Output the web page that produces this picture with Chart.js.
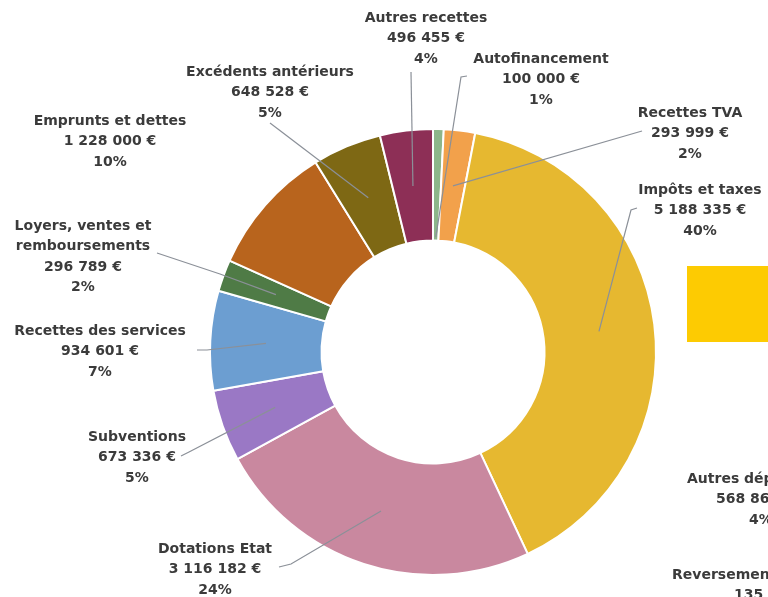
<!DOCTYPE html>
<html>
<head>
<meta charset="utf-8">
<script src="https://cdn.jsdelivr.net/npm/chart.js@4/dist/chart.umd.min.js"></script>
<style>
  html, body { margin: 0; padding: 0; background: #fff; }
  #wrap { width: 768px; height: 597px; }
</style>
</head>
<body>
<div id="wrap"><canvas id="budget-donut"></canvas></div>
<script>
// Recettes, clockwise from 12 o'clock
const LABELS = [
    'Autofinancement',
    'Recettes TVA',
    'Impôts et taxes',
    'Dotations Etat',
    'Subventions',
    'Recettes des services',
    'Loyers, ventes et|remboursements',
    'Emprunts et dettes',
    'Excédents antérieurs',
    'Autres recettes',
];
const AMOUNTS = [100000, 293999, 5188335, 3116182, 673336, 934601, 296789, 1228000, 648528, 496455];
const PERCENTS = ['1%', '2%', '40%', '24%', '5%', '7%', '2%', '10%', '5%', '4%'];

const COLORS = ['#8db68a', '#f2a14b', '#e6b830', '#c9889f', '#9a78c5', '#6c9ed1', '#4f7b46', '#b8641d', '#7e6814', '#8d2f56'];

// where the label block sits (centre x, first line y) and the leader line's outer part
const LABEL_AT = [
    [541, 59], [690, 113], [700, 190], [215, 549], [137, 437],
    [100, 331], [83, 226], [110, 121], [270, 72], [426, 18],
];
const LEADERS = [
    [[467, 76], [461, 77]],
    [[642, 131]],
    [[637, 208], [631, 210]],
    [[279, 567], [291, 564]],
    [[181, 456], [189, 452]],
    [[197, 350], [207, 350]],
    [[157, 253], [220, 274]],
    null,
    [[270, 123]],
    [[411, 72]],
];
const LEADER_DEPTH = [0.03, 0.5, 0.5, 0.5, 0.5, 0.5, 0.5, 0.5, 0.5, 0.5];

const FONT = 'bold 14px "DejaVu Sans", sans-serif';
const TEXT_COLOR = '#3b3b3b';
const LINE_H = 20.5;

const fmtEuro = (n) => String(n).replace(/\B(?=(\d{3})+(?!\d))/g, ' ') + ' €';

const drawBlock = (ctx, x, y, lines) => {
    lines.forEach((t, k) => ctx.fillText(t, x, y + k * LINE_H));
};

const labelPlugin = {
    id: 'leaderLabels',
    afterDatasetsDraw(chart) {
        const ctx = chart.ctx;
        const arcs = chart.getDatasetMeta(0).data;
        ctx.save();

        // leader lines
        ctx.strokeStyle = '#8b9098';
        ctx.lineWidth = 1.2;
        arcs.forEach((arc, i) => {
            if (!LEADERS[i]) return;
            const mid = (arc.startAngle + arc.endAngle) / 2;
            const r = arc.innerRadius + (arc.outerRadius - arc.innerRadius) * LEADER_DEPTH[i];
            ctx.beginPath();
            LEADERS[i].forEach(([px, py], k) => (k ? ctx.lineTo(px, py) : ctx.moveTo(px, py)));
            ctx.lineTo(arc.x + r * Math.cos(mid), arc.y + r * Math.sin(mid));
            ctx.stroke();
        });

        // labels
        ctx.font = FONT;
        ctx.fillStyle = TEXT_COLOR;
        ctx.textAlign = 'center';
        ctx.textBaseline = 'middle';
        LABELS.forEach((name, i) => {
            const [x, y] = LABEL_AT[i];
            drawBlock(ctx, x, y, [...name.split('|'), fmtEuro(AMOUNTS[i]), PERCENTS[i]]);
        });

        // start of the neighbouring (dépenses) chart, cut by the frame
        ctx.fillStyle = '#fdcb02';
        ctx.fillRect(687, 266, 90, 76);
        ctx.fillStyle = TEXT_COLOR;
        ctx.textAlign = 'left';
        ctx.fillText('Autres dépenses', 687, 479);
        ctx.fillText('568 860 €', 716, 499.5);
        ctx.fillText('4%', 749, 520);
        ctx.fillText('Reversements', 672, 575);
        ctx.fillText('135 000 €', 734, 595.5);
        ctx.restore();
    },
};

const buildDonutConfig = () => ({
    type: 'doughnut',
    data: {
        labels: LABELS.map((l) => l.replace('|', ' ')),
        datasets: [
            {
                data: AMOUNTS,
                backgroundColor: COLORS,
                borderColor: '#ffffff',
                borderWidth: 2,
                hoverOffset: 0,
            },
        ],
    },
    options: {
        responsive: true,
        maintainAspectRatio: false,
        animation: false,
        events: [],
        cutout: '50%',
        layout: { padding: { left: 209, right: 111, top: 128, bottom: 21 } },
        plugins: {
            legend: { display: false },
            tooltip: { enabled: false },
        },
    },
    plugins: [labelPlugin],
});

(function () {
    const el = document.getElementById('budget-donut');
    new Chart(el, buildDonutConfig());
})();
</script>
</body>
</html>
